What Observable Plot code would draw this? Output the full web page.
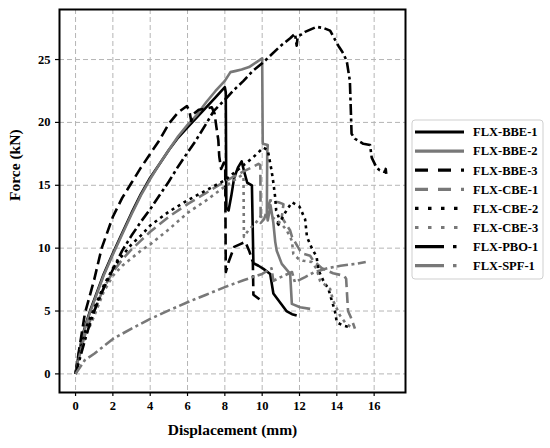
<!DOCTYPE html>
<html><head><meta charset="utf-8">
<script src="https://cdn.jsdelivr.net/npm/d3@7"></script>
<script src="https://cdn.jsdelivr.net/npm/@observablehq/plot@0.6"></script>
<style>body{margin:0;background:#fff} #chart{width:550px;height:448px} #chart svg text{font-family:'Liberation Serif',serif}</style>
</head><body><div id="chart"></div>
<script>
const seriesNames = ["FLX-BBE-1","FLX-BBE-2","FLX-BBE-3","FLX-CBE-1","FLX-CBE-2","FLX-CBE-3","FLX-PBO-1","FLX-SPF-1"];
const xTicks = [0,2,4,6,8,10,12,14,16];
const yTicks = [0,5,10,15,20,25];

const bbe1 = [[0,0],[0.2,1.8],[0.4,3.2],[0.6,4.2],[0.8,5.1],[1,5.9],[1.5,7.9],[2,9.6],[2.5,11.2],[3,12.8],[3.5,14.3],[4,15.6],[4.5,16.7],[5,17.8],[5.5,18.8],[6,19.6],[6.5,20.4],[7,21.2],[7.5,22.0],[8,22.8],[8.05,22.4],[8.08,13.2],[8.2,13.0],[8.35,14.2],[8.5,15.6],[8.7,16.4],[8.9,16.9],[9.05,16.0],[9.2,15.2],[9.45,15.0],[9.53,8.8],[9.8,8.6],[10.07,8.35],[10.43,7.95],[10.6,6.4],[11.0,5.6],[11.3,5.0],[11.6,4.75],[11.85,4.65]];
const bbe2 = [[0,0],[0.2,1.7],[0.4,3.1],[0.6,4.1],[0.8,5.0],[1,5.8],[1.5,7.8],[2,9.5],[2.5,11.1],[3,12.7],[3.5,14.2],[4,15.5],[4.5,16.7],[5,17.8],[5.5,18.9],[6,19.8],[6.5,20.6],[7,21.6],[7.5,22.5],[8,23.3],[8.3,24.0],[8.6,24.1],[8.9,24.2],[9.3,24.4],[9.7,24.8],[10,25.1],[10.03,18.3],[10.3,18.2],[10.27,17.6],[10.25,12.7],[10.3,12.2],[10.45,13.4],[10.6,12.0],[10.7,10.5],[10.78,9.8],[11.05,8.75],[11.5,7.95],[11.59,5.57],[12.03,5.3],[12.57,5.17]];
const bbe3 = [[0,0],[0.2,2.0],[0.5,4.8],[1,7.5],[1.4,10.0],[2,12.5],[2.5,14.0],[3,15.2],[3.5,16.4],[4,17.5],[4.5,18.6],[5,19.9],[5.5,20.8],[5.97,21.3],[6.1,20.9],[6.2,20.1],[6.35,20.7],[6.6,21.0],[7.0,21.1],[7.3,21.2],[7.45,20.7],[7.55,19.6],[7.65,18.6],[7.7,17.3],[7.8,16.3],[7.95,16.8],[8.02,16.5],[8.05,8.1],[8.2,8.9],[8.5,10.1],[8.8,10.3],[9.1,10.5],[9.3,9.8],[9.5,8.9],[9.53,6.3],[9.8,6.0],[9.98,5.8]];
const cbe1 = [[0,0],[0.3,2.0],[0.6,3.6],[1,5.0],[1.5,6.8],[2,8.1],[2.5,9.1],[3,9.9],[3.5,10.6],[4,11.3],[5,12.5],[6,13.5],[7,14.4],[8,15.3],[9,16.1],[9.8,16.7],[9.9,16.6],[9.92,12.0],[10.1,12.3],[10.43,13.8],[10.87,13.65],[11.14,13.5],[11.05,12.45],[11.5,11.4],[11.6,10.9],[12.03,9.8],[12.2,9.55],[12.57,9.4],[12.74,9.0],[13.2,8.4],[13.8,8.0],[14.4,7.8],[14.5,7.55],[14.6,5.0],[14.75,4.5],[14.97,3.6]];
const cbe2 = [[0,0],[0.3,2.2],[0.6,3.8],[1,5.2],[1.5,7.0],[2,8.4],[2.5,9.4],[3,10.3],[3.5,11.0],[4,11.8],[5,12.9],[6,13.8],[7,14.6],[8,15.4],[9,16.6],[9.5,17.2],[10.07,18.0],[10.3,17.8],[10.4,17.0],[10.5,16.2],[10.6,15.2],[10.7,14.0],[10.75,13.0],[10.9,12.4],[10.8,11.7],[11.0,12.2],[11.3,13.0],[11.6,13.65],[12.0,13.3],[12.3,12.3],[12.4,10.9],[12.66,10.0],[12.92,9.3],[13.0,8.3],[13.28,7.4],[13.55,6.76],[13.73,5.83],[13.9,5.0],[14.0,4.1],[14.35,3.84],[14.7,3.7]];
const cbe3 = [[0,0],[0.3,1.8],[0.6,3.2],[1,4.6],[1.5,6.5],[2,7.8],[2.5,8.6],[3,9.2],[3.5,9.8],[4,10.3],[5,11.5],[6,12.8],[7,13.8],[8,14.9],[8.9,15.8],[9.0,15.7],[9.02,10.9],[9.3,11.5],[9.6,11.9],[9.9,12.5],[10.2,12.7],[10.6,12.4],[11.05,11.9],[11.32,11.4],[11.59,10.6],[11.67,9.55],[11.94,9.15],[12.2,9.0],[12.66,8.9],[12.92,8.35],[13.1,7.4],[13.64,6.76],[13.8,5.83],[14.17,4.64],[14.5,3.98],[14.9,3.58]];
const pbo1 = [[0,0],[0.3,1.6],[0.6,3.2],[1,5.0],[1.5,6.8],[2,8.3],[2.5,9.8],[3,11.0],[3.5,12.1],[4,13.1],[4.5,14.2],[5,15.3],[5.5,16.5],[6,17.6],[6.42,18.5],[7,19.9],[7.4,20.9],[8,21.8],[8.5,22.6],[9,23.3],[9.5,24.1],[10,24.7],[10.43,25.3],[11,26.1],[11.5,26.7],[11.76,27.05],[11.85,26.1],[11.9,26.8],[12.3,27.2],[12.92,27.6],[13.3,27.5],[13.64,27.3],[14.08,26.1],[14.3,25.6],[14.53,24.9],[14.7,23.3],[14.75,21],[14.79,19.1],[14.97,18.7],[15.42,18.3],[15.78,18.2],[15.87,17.2],[16.13,16.4],[16.3,16.2],[16.58,16.05],[16.62,16.3],[16.65,15.9]];
const spf1 = [[0,0],[0.5,1.1],[1,1.6],[2,2.78],[3,3.6],[4,4.37],[5,5.05],[6,5.7],[7,6.3],[8,6.9],[9,7.45],[10,7.95],[10.5,8.4],[10.6,7.4],[11.0,7.7],[11.6,8.1],[11.75,7.3],[12.3,7.7],[12.8,8.1],[13.5,8.4],[14.2,8.6],[15.0,8.75],[15.55,8.9]];

const seriesData = [bbe1,bbe2,bbe3,cbe1,cbe2,cbe3,pbo1,spf1];
const BLACK = "#000", GRAY = "#787878";
const FONT = "'Liberation Serif', serif";
const styles = [
  {stroke:BLACK, dash:null, ldash:null},
  {stroke:GRAY, dash:null, ldash:null},
  {stroke:BLACK, dash:"11,5", ldash:"13,10"},
  {stroke:GRAY, dash:"11,5", ldash:"13,10"},
  {stroke:BLACK, dash:"3,4", ldash:"3.5,9.5"},
  {stroke:GRAY, dash:"3,4", ldash:"3.5,9.5"},
  {stroke:BLACK, dash:"11,3.5,3,3.5", ldash:"29,9,3.5,30"},
  {stroke:GRAY, dash:"11,3.5,3,3.5", ldash:"29,9,3.5,30"}
];

const rows = seriesNames.map((name, i) => seriesData[i].map(([d, f]) => ({series: name, d, f})));

const lineMarks = rows.map((r, i) => Plot.line(r, {
  x: "d", y: "f", stroke: styles[i].stroke, strokeWidth: 2.6,
  strokeDasharray: styles[i].dash || undefined, strokeLinecap: "butt", strokeLinejoin: "round"
}));

const plot = Plot.plot({
  width: 550, height: 448,
  marginLeft: 59, marginRight: 145, marginTop: 9, marginBottom: 56,
  style: {fontFamily: FONT, fontSize: "12.5px", fontWeight: "bold", color: "#000", background: "#fff"},
  x: {domain: [-0.86, 17.68], ticks: xTicks, label: null},
  y: {domain: [-1.48, 28.98], ticks: yTicks, label: null},
  marks: [
    Plot.gridX(xTicks, {stroke: "#b5b5b5", strokeOpacity: 1, strokeWidth: 1, strokeDasharray: "5,3"}),
    Plot.gridY(yTicks, {stroke: "#b5b5b5", strokeOpacity: 1, strokeWidth: 1, strokeDasharray: "5,3"}),
    ...lineMarks,
    Plot.axisX(xTicks, {tickSize: 4, tickPadding: 5, stroke: "#000", strokeWidth: 1.2, fontSize: 12.5, fontFamily: FONT, fontWeight: "bold"}),
    Plot.axisY(yTicks, {tickSize: 4, tickPadding: 5, stroke: "#000", strokeWidth: 1.2, fontSize: 12.5, fontFamily: FONT, fontWeight: "bold"}),
    Plot.frame({stroke: "#000", strokeWidth: 2}),
    Plot.text(["Displacement (mm)"], {frameAnchor: "bottom", dy: 42, fontSize: 15.5, fontWeight: "bold", fontFamily: FONT}),
    Plot.text(["Force (kN)"], {frameAnchor: "left", dx: -44, rotate: -90, fontSize: 15.5, fontWeight: "bold", fontFamily: FONT})
  ]
});

document.getElementById("chart").appendChild(plot);

// Legend
const svg = d3.select(plot);
const lg = svg.append("g").attr("font-family", FONT).attr("font-size", 12.5).attr("font-weight", "bold").attr("text-anchor", "start");
lg.append("rect").attr("x", 412).attr("y", 120).attr("width", 131).attr("height", 159).attr("rx", 3)
  .attr("fill", "#fff").attr("stroke", "#cfcfcf").attr("stroke-width", 1);
seriesNames.forEach((name, i) => {
  const y = 132 + i * 19.1;
  lg.append("line").attr("x1", 415).attr("x2", 464).attr("y1", y).attr("y2", y)
    .attr("stroke", styles[i].stroke).attr("stroke-width", 3.2)
    .attr("stroke-dasharray", styles[i].ldash).attr("stroke-linecap", "butt");
  lg.append("text").attr("x", 473).attr("y", y + 4.3).attr("fill", "#000").attr("text-anchor", "start").text(name);
});
</script>
</body></html>
